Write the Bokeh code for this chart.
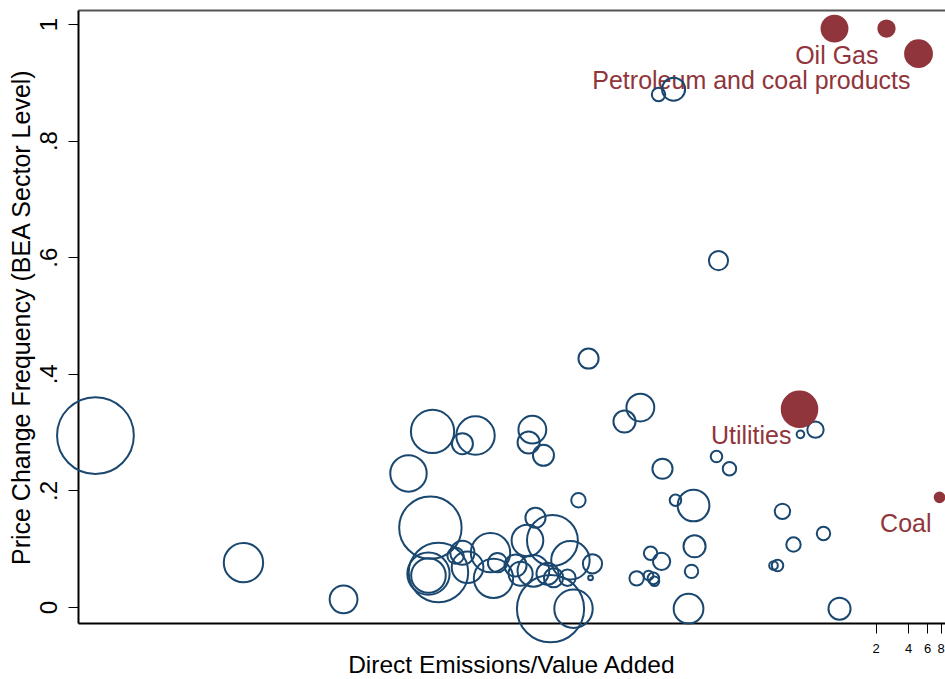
from math import sqrt, log10

from bokeh.plotting import figure
from bokeh.models import (ColumnDataSource, Range1d, FixedTicker, LogAxis,
                          PrintfTickFormatter, CustomJSTickFormatter)
from bokeh.core.properties import value
from bokeh.embed import file_html
from bokeh.resources import INLINE

# ---- data ---------------------------------------------------------------
# Non-energy BEA sectors: emissions intensity, price change frequency, sector weight
other_emis = [1.18e-7, 2.77e-6, 2.34e-5, 9.34e-5, 1.56e-4, 2.95e-4, 3.90e-4,
              1.49e-4, 1.43e-4, 1.77e-4, 1.43e-4, 2.55e-4, 2.95e-4, 3.29e-4,
              5.37e-4, 5.72e-4, 6.23e-4, 9.15e-4, 1.18e-3, 1.40e-3, 2.01e-3,
              1.02e-3, 1.34e-3, 1.81e-3, 2.06e-3, 2.77e-3, 2.95e-3, 4.72e-3,
              4.53e-3, 1.93e-3, 3.15e-3, 3.50e-3, 1.31e-3, 1.21e-3, 1.66e-3,
              4.34e-3, 1.31e-2, 9.34e-3, 2.10e-2, 1.93e-2, 2.66e-2, 6.93e-2,
              6.64e-2, 8.76e-2, 0.398, 0.548, 4.07e-2, 2.77e-2, 4.16e-2,
              3.90e-2, 3.66e-2, 1.63e-2, 2.06e-2, 1.21e-2, 1.56e-2, 1.73e-2,
              1.77e-2, 0.271, 0.343, 0.650, 0.224, 0.244, 0.915]
other_freq = [0.295, 0.077, 0.014, 0.230, 0.302, 0.281, 0.295,
              0.137, 0.058, 0.060, 0.055, 0.089, 0.094, 0.069,
              0.094, 0.050, 0.077, 0.072, 0.115, 0.154, 0.115,
              0.058, 0.063, 0.058, 0.051, 0.051, 0.081, 0.075,
              0.051, -0.002, -0.002, 0.184, 0.305, 0.283, 0.261,
              0.427, 0.343, 0.319, 0.238, 0.880, 0.889, 0.595,
              0.259, 0.238, 0.297, 0.305, 0.175, 0.184, 0.105,
              0.062, -0.002, 0.093, 0.079, 0.050, 0.055, 0.050,
              0.045, 0.165, 0.108, 0.127, 0.072, 0.072, -0.002]
other_weight = [64.0, 16.8, 8.4, 14.4, 20.3, 4.8, 16.0,
                42.3, 19.4, 38.4, 13.0, 2.9, 6.3, 10.9,
                16.8, 16.8, 4.0, 5.3, 10.9, 4.4, 28.1,
                6.3, 10.9, 5.3, 4.0, 2.9, 16.0, 4.0,
                0.25, 49.0, 16.0, 2.25, 8.4, 5.3, 4.8,
                4.4, 8.4, 5.3, 4.4, 1.96, 5.76, 4.0,
                1.44, 1.96, 0.64, 2.9, 10.9, 1.44, 5.3,
                1.96, 9.6, 1.96, 3.24, 2.25, 1.0, 1.44,
                1.0, 2.56, 2.25, 1.96, 0.81, 1.44, 5.3]

# Energy sectors, highlighted and labelled
energy_names = ["", "Oil Gas", "Petroleum and coal products", "Utilities", "Coal"]
energy_emis = [0.822, 2.49, 4.93, 0.390, 7.71]
energy_freq = [0.993, 0.993, 0.950, 0.340, 0.189]
energy_weight = [7.3, 2.9, 7.8, 13.7, 1.0]

# tick positions
y_ticks = [0, 0.2, 0.4, 0.6, 0.8, 1]
x_ticks = [2, 4, 6, 8]

NAVY = "#1A476F"
MAROON = "#90353B"
FONT = "Liberation Sans"

X_LO, X_HI = 10 ** -7.085, 10 ** 0.9427
Y_LO, Y_HI = -0.0274, 1.024


def bubble(w):
    return [9.6 * sqrt(v) for v in w]


other = ColumnDataSource(dict(x=other_emis, y=other_freq, s=bubble(other_weight)))
energy = ColumnDataSource(dict(x=energy_emis, y=energy_freq, s=bubble(energy_weight),
                               name=energy_names))

p = figure(width=945, height=679, x_axis_type="log",
           x_range=Range1d(X_LO, X_HI), y_range=Range1d(Y_LO, Y_HI),
           output_backend="svg", toolbar_location=None,
           min_border_left=78, min_border_right=0,
           min_border_top=10, min_border_bottom=56)
p.xgrid.visible = False
p.ygrid.visible = False
p.outline_line_color = None
p.background_fill_color = "white"
p.border_fill_color = "white"

# bubbles are drawn on the overlay level so they may spill past the axes
r1 = p.scatter("x", "y", size="s", source=other, fill_color=None,
               line_color=NAVY, line_width=2)
r2 = p.scatter("x", "y", size="s", source=energy, fill_color=MAROON,
               line_color=MAROON, line_width=2)
r1.level = "overlay"
r2.level = "overlay"
p.text("x", "y", text="name", source=energy, text_align="right",
       text_baseline="middle", x_offset=-8, y_offset=26,
       text_color=MAROON, text_font=value(FONT), text_font_size="25px")

# x axis
xa = p.xaxis[0]
xa.ticker = FixedTicker(ticks=x_ticks, minor_ticks=[])
xa.formatter = PrintfTickFormatter(format="%d")
xa.major_label_text_font = FONT
xa.major_label_text_font_size = "13px"
xa.major_label_text_color = "black"
xa.major_label_standoff = 10
xa.major_tick_in = 0
xa.major_tick_out = 10
xa.major_tick_line_color = "black"
xa.minor_tick_line_color = None
xa.axis_line_color = "black"
xa.axis_line_width = 2

# x axis title, set just under the tick labels (unclipped overlay text)
x_mid = 10 ** ((log10(X_LO) + log10(X_HI)) / 2)
xt = p.text(x=[x_mid], y=[Y_LO], text=["Direct Emissions/Value Added"],
            y_offset=41, text_align="center", text_baseline="middle",
            text_font=value(FONT), text_font_size="24.5px", text_color="black")
xt.level = "overlay"

# y axis
ya = p.yaxis[0]
ya.ticker = FixedTicker(ticks=y_ticks, minor_ticks=[])
ya.formatter = CustomJSTickFormatter(
    code="if (tick == 0) return '0'; if (tick >= 1) return '1';"
         " return tick.toFixed(1).replace(/^0/, '');")
ya.axis_label = "Price Change Frequency (BEA Sector Level)"
ya.axis_label_text_font = FONT
ya.axis_label_text_font_style = "normal"
ya.axis_label_text_font_size = "25px"
ya.axis_label_text_color = "black"
ya.axis_label_standoff = 3
ya.major_label_orientation = "vertical"
ya.major_label_text_font = FONT
ya.major_label_text_font_size = "24px"
ya.major_label_text_color = "black"
ya.major_label_standoff = 11
ya.major_tick_in = 0
ya.major_tick_out = 10
ya.major_tick_line_color = "black"
ya.minor_tick_line_color = None
ya.axis_line_color = "black"
ya.axis_line_width = 2

# plain rule along the top of the plot region
top = LogAxis(ticker=FixedTicker(ticks=[], minor_ticks=[]),
              major_label_text_font_size="0px",
              major_tick_line_color=None, minor_tick_line_color=None,
              axis_line_color="#555555", axis_line_width=2)
p.add_layout(top, "above")

open("out.html", "w").write(file_html(p, INLINE))
